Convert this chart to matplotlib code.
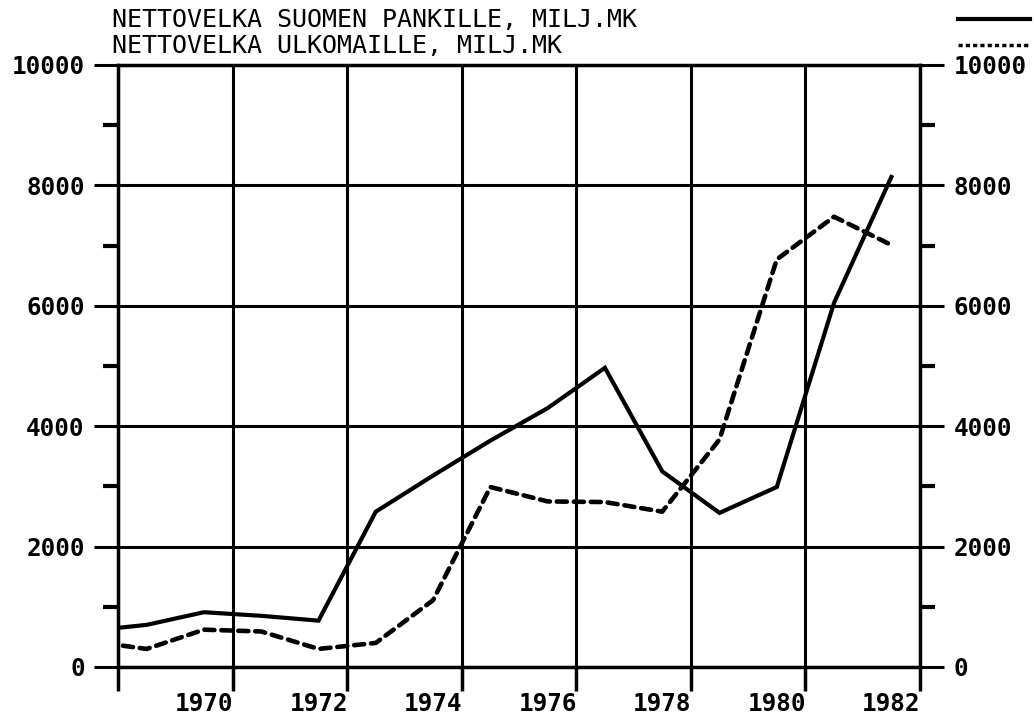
import numpy as np
import matplotlib
matplotlib.use("Agg")
import matplotlib.pyplot as plt
from matplotlib.lines import Line2D
from matplotlib.ticker import FixedLocator, FixedFormatter

## Data (annual values, plotted at mid-year)
years = [1968, 1969, 1970, 1971, 1972, 1973, 1974, 1975,
         1976, 1977, 1978, 1979, 1980, 1981, 1982]
pankille = [600, 700, 910, 850, 770, 2580, 3180, 3760,
            4300, 4970, 3250, 2560, 2990, 6050, 8140]
ulkomaille = [430, 300, 620, 590, 300, 400, 1110, 2990,
              2750, 2740, 2580, 3780, 6770, 7480, 7010]
year_labels = ["1970", "1972", "1974", "1976", "1978", "1980", "1982"]
legend_labels = ["NETTOVELKA SUOMEN PANKILLE, MILJ.MK",
                 "NETTOVELKA ULKOMAILLE, MILJ.MK"]

plt.rcParams['font.family'] = ['DejaVu Sans Mono']

fig = plt.figure(figsize=(10.34, 7.21), dpi=100)
ax = fig.add_axes([118/1034, 1-667/721, (920-118)/1034, (667-65)/721])

x = np.array(years) + 0.5
ax.plot(x, pankille, color='black', lw=3, solid_joinstyle='miter')
ax.plot(x, ulkomaille, color='black', lw=3.3, linestyle=(0, (2.2, 1.5)),
        dash_capstyle='round')

ax.set_xlim(1969, 1983)
ax.set_ylim(0, 10000)

# gridlines on the odd-year boundaries, labels centred on the years
ax.xaxis.set_major_locator(FixedLocator(np.arange(1969, 1984, 2)))
ax.xaxis.set_major_formatter(FixedFormatter([''] * 8))
ax.xaxis.set_minor_locator(FixedLocator([int(s) + 0.5 for s in year_labels]))
ax.xaxis.set_minor_formatter(FixedFormatter(year_labels))

ax.yaxis.set_major_locator(FixedLocator(np.arange(0, 10001, 2000)))
ax.yaxis.set_minor_locator(FixedLocator(np.arange(1000, 10000, 2000)))

ax.grid(True, which='major', color='black', lw=2.2)

for s in ax.spines.values():
    s.set_linewidth(2.5)

ax.tick_params(axis='x', which='major', direction='out', length=17, width=2.5,
               bottom=True, top=False)
ax.tick_params(axis='x', which='minor', length=0, pad=18, labelsize=17.5)
for t in ax.xaxis.get_minorticklabels():
    t.set_fontweight('bold')

ax.tick_params(axis='y', which='major', direction='out', length=17, width=2.2,
               left=True, right=True, labelleft=True, labelright=True,
               labelsize=17.5, pad=7)
ax.tick_params(axis='y', which='minor', direction='out', length=11, width=3,
               left=True, right=True)
for t in ax.yaxis.get_majorticklabels():
    t.set_fontweight('bold')

## Legend at the top
fig.text(112/1034, 1-20/721, legend_labels[0], fontsize=18, va='center', ha='left')
fig.text(112/1034, 1-46/721, legend_labels[1], fontsize=18, va='center', ha='left')
fig.add_artist(Line2D([958/1034, 1030/1034], [1-19/721, 1-19/721],
                      color='black', lw=3, transform=fig.transFigure))
fig.add_artist(Line2D([958/1034, 1030/1034], [1-45/721, 1-45/721],
                      color='black', lw=2.5, linestyle=(0, (1.2, 0.9)),
                      transform=fig.transFigure))

fig.savefig("out.png", dpi=100)
